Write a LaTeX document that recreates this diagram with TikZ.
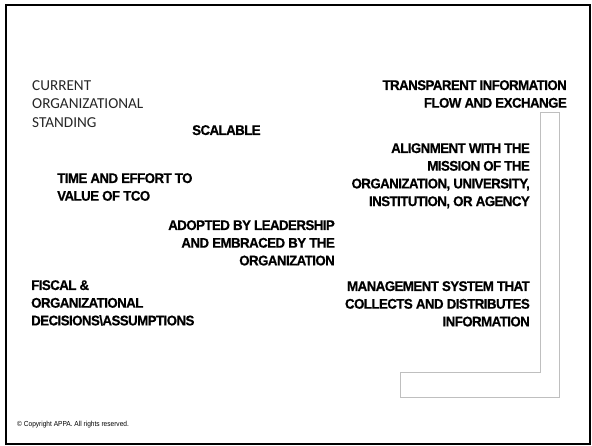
\documentclass[tikz,border=0pt]{standalone}
\usepackage{fontspec}
\setmainfont{Carlito}
\newfontfamily\nb{Liberation Sans}[FakeStretch=0.95,LetterSpace=-4,FakeBold=0.6]
\newfontfamily\nr{Liberation Sans}[FakeStretch=0.9]
\begin{document}
\begin{tikzpicture}[x=1pt,y=-1pt,
  reg/.style={inner sep=0pt, align=left, anchor=north west,
    font=\fontsize{15.2}{18.5}\selectfont, text=black!85},
  bl/.style={inner sep=0pt, font=\nb\bfseries\fontsize{14}{17.7}\selectfont, text=black},
  bll/.style={bl, align=left, anchor=north west},
  blr/.style={bl, align=right, anchor=north east},
  frame/.style={draw=black, line width=2pt},
  lshape/.style={draw=black!25, line width=1pt}]
\useasboundingbox (0,0) rectangle (592,445);
\draw[frame] (6,5) rectangle (590,444);
\draw[lshape] (540,112) -- (559,112) -- (559,397) -- (400,397) -- (400,372) -- (540,372) -- cycle;
\node[reg] (cur) at (32,80) {CURRENT\\ORGANIZATIONAL\\STANDING};
\node[bll] (scal) at (192,125) {SCALABLE};
\node[bll] (time) at (57,173) {TIME AND EFFORT TO\\VALUE OF TCO};
\node[blr] (adopt) at (335,220) {ADOPTED BY LEADERSHIP\\AND EMBRACED BY THE\\ORGANIZATION};
\node[bll] (fisc) at (31,280) {FISCAL \&\\ORGANIZATIONAL\\DECISIONS\textbackslash ASSUMPTIONS};
\node[blr] (trans) at (567,80) {TRANSPARENT INFORMATION\\FLOW AND EXCHANGE};
\node[blr] (align) at (530,143) {ALIGNMENT WITH THE\\MISSION OF THE\\ORGANIZATION, UNIVERSITY,\\INSTITUTION, OR AGENCY};
\node[blr] (mgmt) at (530,281) {MANAGEMENT SYSTEM THAT\\COLLECTS AND DISTRIBUTES\\INFORMATION};
\node[inner sep=0pt, anchor=north west, font=\nr\fontsize{7.3}{8.5}\selectfont] (copy) at (17,421.5) {© Copyright APPA. All rights reserved.};
\end{tikzpicture}
\end{document}
